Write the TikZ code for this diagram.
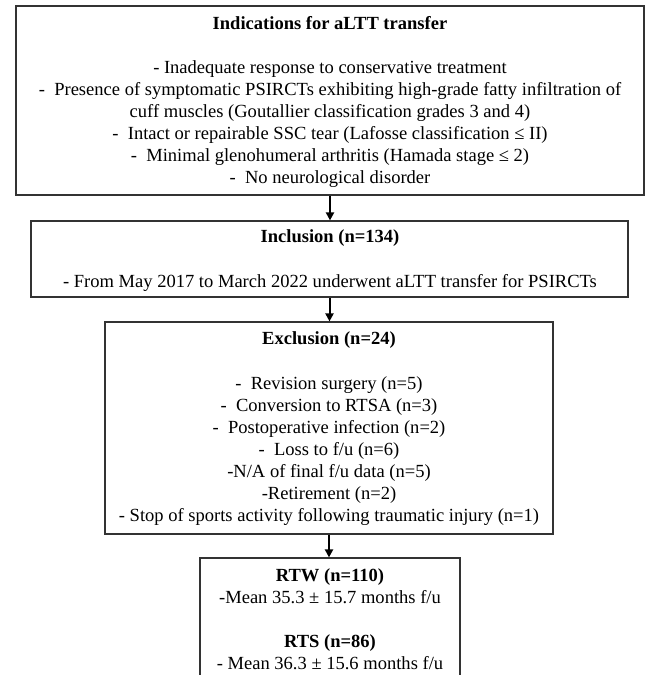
\documentclass[tikz,border=0pt]{standalone}
\usepackage{fontspec}
\setmainfont{Liberation Serif}
\usetikzlibrary{arrows.meta}
\begin{document}
\begin{tikzpicture}[x=1bp,y=-1bp,
  boxnode/.style={draw=black!80, line width=1.2bp, rectangle, inner sep=0pt},
  body/.style={font=\fontsize{18.6}{22}\selectfont, align=center, inner sep=0pt},
  ttl/.style={font=\fontsize{18.6}{22}\selectfont\bfseries, inner sep=0pt},
  flow/.style={-{Triangle[length=8bp,width=8bp]}, line width=2bp, black}]
\useasboundingbox (0,0) rectangle (650,675);
\clip (0,0) rectangle (650,675);
\fill[white] (0,0) rectangle (650,675);

% boxes
\node[boxnode, minimum width=628bp, minimum height=189bp] (b1) at (330,100.5) {};
\node[boxnode, minimum width=597bp, minimum height=76bp] (b2) at (329.5,259) {};
\node[boxnode, minimum width=448bp, minimum height=212bp] (b3) at (329,428) {};
\node[boxnode, minimum width=260bp, minimum height=142bp] (b4) at (330,629) {};

% box 1
\node[ttl] (t1) at (330,23) {Indications for aLTT transfer};
\node[body] (x1) at (330,124) {- Inadequate response to conservative treatment\\
-~~Presence of symptomatic PSIRCTs exhibiting high-grade fatty infiltration of\\
cuff muscles (Goutallier classification grades 3 and 4)\\
-~~Intact or repairable SSC tear (Lafosse classification ≤ II)\\
-~~Minimal glenohumeral arthritis (Hamada stage ≤ 2)\\
-~~No neurological disorder};

% box 2
\node[ttl] (t2) at (330,238) {Inclusion (n=134)};
\node[body] (x2) at (330,283) {- From May 2017 to March 2022 underwent aLTT transfer for PSIRCTs};

% box 3
\node[ttl] (t3) at (329,340) {Exclusion (n=24)};
\node[body] (x3) at (329,451) {-~~Revision surgery (n=5)\\
-~~Conversion to RTSA (n=3)\\
-~~Postoperative infection (n=2)\\
-~~Loss to f/u (n=6)\\
-N/A of final f/u data (n=5)\\
-Retirement (n=2)\\
- Stop of sports activity following traumatic injury (n=1)};

% box 4
\node[body] (x4a) at (330,586) {\textbf{RTW (n=110)}\\-Mean 35.3 ± 15.7 months f/u};
\node[body] (x4b) at (330,652.5) {\textbf{RTS (n=86)}\\- Mean 36.3 ± 15.6 months f/u};

% arrows
\draw[flow] (b1.south) -- (b1.south |- b2.north);
\draw[flow] (b2.south) -- (b2.south |- b3.north);
\draw[flow] (b3.south) -- (b3.south |- b4.north);
\end{tikzpicture}
\end{document}
